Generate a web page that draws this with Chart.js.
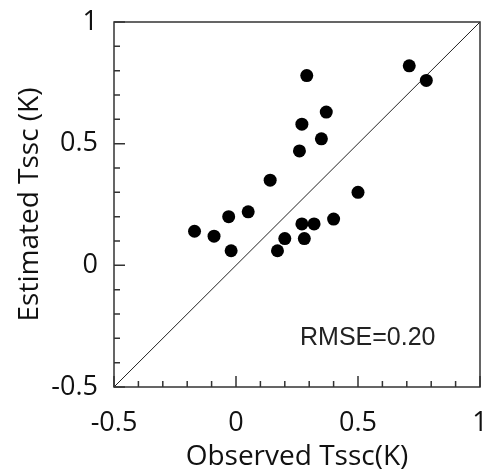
<!DOCTYPE html>
<html>
<head>
<meta charset="utf-8">
<script src="https://cdn.jsdelivr.net/npm/chart.js@4"></script>
<style>
  body { margin: 0; background: #fff; }
  canvas { display: block; }
</style>
</head>
<body>
<canvas id="chart" width="487" height="476"></canvas>
<script>
const observed  = [0.29, 0.71, 0.78, 0.37, 0.27, 0.35, 0.26, 0.14, 0.50, 0.05, -0.03, -0.17, -0.09, -0.02, 0.17, 0.20, 0.27, 0.32, 0.28, 0.40];
const estimated = [0.78, 0.82, 0.76, 0.63, 0.58, 0.52, 0.47, 0.35, 0.30, 0.22, 0.20, 0.14, 0.12, 0.06, 0.06, 0.11, 0.17, 0.17, 0.11, 0.19];
const lineEnds = [-0.5, 1];
const tickLabels = [-0.5, 0, 0.5, 1];
const rmseText = "RMSE=0.20";

/* Frame + inward ticks */
const framePlugin = {
  id: "frame",
  afterDraw(chart) {
    const { ctx, chartArea: a, scales } = chart;
    ctx.save();
    ctx.strokeStyle = "#333";
    ctx.lineWidth = 1.5;
    ctx.strokeRect(a.left, a.top, a.right - a.left, a.bottom - a.top);

    for (let i = -5; i <= 10; i++) {
      const v = i / 10;
      const len = i % 5 === 0 ? 11 : 6;
      const px = scales.x.getPixelForValue(v);
      const py = scales.y.getPixelForValue(v);
      ctx.beginPath();
      ctx.moveTo(px, a.bottom);
      ctx.lineTo(px, a.bottom - len);
      ctx.moveTo(a.left, py);
      ctx.lineTo(a.left + len, py);
      ctx.stroke();
    }

    // RMSE note
    ctx.fillStyle = "#222";
    ctx.font = "25px 'Liberation Sans', Arial, sans-serif";
    ctx.textAlign = "center";
    ctx.textBaseline = "middle";
    ctx.fillText(rmseText, scales.x.getPixelForValue(0.54), scales.y.getPixelForValue(-0.3));
    ctx.restore();
  }
};

const tickFont = { family: "'Open Sans', sans-serif", size: 27 };
const titleFont = { family: "'Open Sans', sans-serif", size: 28 };
const fmt = v => String(v);

new Chart(document.getElementById("chart"), {
  type: "scatter",
  data: {
    datasets: [
      {
        data: observed.map((x, i) => ({ x, y: estimated[i] })),
        backgroundColor: "#000",
        borderWidth: 0,
        pointRadius: 6.5,
        pointHoverRadius: 6.5
      },
      {
        type: "line",
        data: lineEnds.map(v => ({ x: v, y: v })),
        borderColor: "#222",
        borderWidth: 1,
        pointRadius: 0,
        fill: false
      }
    ]
  },
  options: {
    responsive: false,
    animation: false,
    devicePixelRatio: 1,
    layout: { padding: { top: 22, right: 7, left: 0, bottom: 0 } },
    plugins: { legend: { display: false }, tooltip: { enabled: false } },
    scales: {
      x: {
        type: "linear",
        min: -0.5,
        max: 1,
        afterBuildTicks: s => { s.ticks = tickLabels.map(value => ({ value })); },
        ticks: { font: tickFont, color: "#111", padding: 20, maxRotation: 0, callback: fmt },
        grid: { display: false, drawTicks: false },
        border: { display: false },
        title: { display: true, text: "Observed Tssc(K)", font: titleFont, color: "#111", padding: { top: 0, bottom: 2 } },
        afterFit: s => { s.height = 89; s.paddingLeft = s.paddingRight = 0; }
      },
      y: {
        type: "linear",
        min: -0.5,
        max: 1,
        afterBuildTicks: s => { s.ticks = tickLabels.map(value => ({ value })); },
        ticks: { font: tickFont, color: "#111", padding: 16, callback: fmt },
        grid: { display: false, drawTicks: false },
        border: { display: false },
        title: { display: true, text: "Estimated Tssc (K)", font: titleFont, color: "#111", padding: { top: 13, bottom: 0 } },
        afterFit: s => { s.width = 114; s.paddingTop = s.paddingBottom = 0; }
      }
    }
  },
  plugins: [framePlugin]
});
</script>
</body>
</html>
